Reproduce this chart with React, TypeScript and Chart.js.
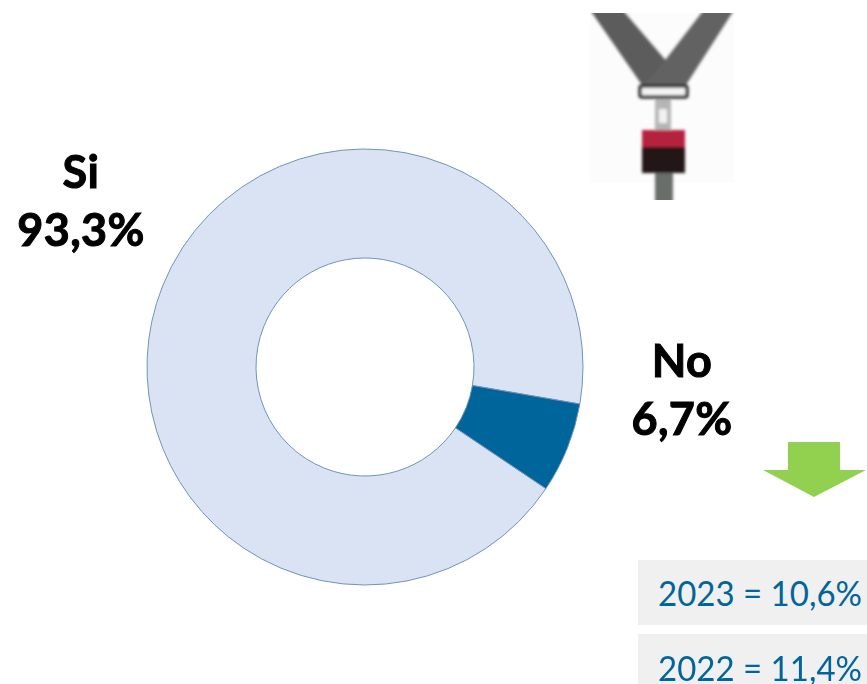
import React, { useEffect, useRef } from "react";
import { Chart, registerables } from "chart.js";

Chart.register(...registerables);

const categories = ["Si", "No"];
const shareValues = [93.3, 6.7];
const shareLabels = ["93,3%", "6,7%"];
const sliceColors = ["#dae3f3", "#00659a"];
const historyYears = ["2023", "2022"];
const historyValues = ["10,6%", "11,4%"];

const font = "Lato, 'Open Sans', sans-serif";

const abs = (left: number, top: number, width: number, height: number): React.CSSProperties => ({
  position: "absolute",
  left,
  top,
  width,
  height,
});

function Belt() {
  return (
    <svg style={{ ...abs(590, 13, 144, 187) }} viewBox="0 0 144 187">
      <defs>
        <filter id="b" x="-10%" y="-10%" width="120%" height="120%">
          <feGaussianBlur stdDeviation="1.4" />
        </filter>
        <clipPath id="c">
          <rect x="0" y="0" width="144" height="187" />
        </clipPath>
      </defs>
      <rect x="0" y="0" width="144" height="170" fill="#fcfcfc" />
      <g clipPath="url(#c)">
        <g filter="url(#b)">
          <polygon points="-2,-6 30,-6 78,50 96,72 52,72" fill="#5c5c5c" />
          <polygon points="116,-6 146,-6 96,72 54,72 76,46" fill="#626262" />
          <rect x="50" y="73" width="47" height="11" rx="2" fill="#f4f4f4" stroke="#333333" strokeWidth="3.5" />
          <rect x="65" y="86" width="16" height="32" fill="#b5b5b5" />
          <rect x="69" y="96" width="8" height="14" fill="#f2f2f2" />
          <rect x="52" y="117" width="43" height="20" fill="#b5203c" />
          <rect x="52" y="134" width="43" height="26" fill="#241417" />
          <rect x="65" y="160" width="18" height="30" fill="#6a6e6a" />
        </g>
      </g>
    </svg>
  );
}

export default function App() {
  const ref = useRef<HTMLCanvasElement | null>(null);

  useEffect(() => {
    if (!ref.current) return;
    const chart = new Chart(ref.current, {
      type: "doughnut",
      data: {
        labels: categories,
        datasets: [
          {
            data: shareValues,
            backgroundColor: sliceColors,
            borderColor: "#6f93bb",
            borderWidth: 1,
          },
        ],
      },
      options: {
        animation: false,
        responsive: false,
        rotation: 123.9,
        cutout: "50%",
        layout: { padding: { left: 146.5, right: 283.5, top: 148.5, bottom: 98.5 } },
        plugins: { legend: { display: false }, tooltip: { enabled: false } },
      },
    });
    return () => chart.destroy();
  }, []);

  const big: React.CSSProperties = {
    position: "absolute",
    fontFamily: font,
    fontWeight: 700,
    fontSize: 45,
    lineHeight: "58px",
    textAlign: "center",
    color: "#000",
    whiteSpace: "nowrap",
    WebkitTextStroke: "1px #000",
    letterSpacing: 0.4,
  };
  const row: React.CSSProperties = {
    fontFamily: font,
    fontSize: 33,
    color: "#00659a",
    background: "#f0f0f0",
    paddingLeft: 20,
    boxSizing: "border-box",
    whiteSpace: "nowrap",
    overflow: "hidden",
  };
  const tall: React.CSSProperties = { display: "inline-block", transform: "scaleY(1.08)" };

  return (
    <div style={{ position: "absolute", left: 0, top: 0, width: 867, height: 684, overflow: "hidden", background: "#fff" }}>
      <canvas ref={ref} width={867} height={684} style={{ position: "absolute", left: 0, top: 0, width: 867, height: 684 }} />
      <Belt />
      <div style={{ ...big, left: 0, top: 142, width: 162 }}>
        {categories[0]}
        <br />
        {shareLabels[0]}
      </div>
      <div style={{ ...big, left: 601, top: 331, width: 162 }}>
        {categories[1]}
        <br />
        {shareLabels[1]}
      </div>
      <svg style={{ ...abs(763, 442, 104, 56) }} viewBox="0 0 104 56">
        <polygon points="25,0 77,0 77,28 103,28 51,55 0,28 25,28" fill="#92d050" />
      </svg>
      <div style={{ ...abs(638, 560, 229, 65), ...row, lineHeight: "65px" }}>
        <span style={tall}>
          {historyYears[0]} = {historyValues[0]}
        </span>
      </div>
      <div style={{ ...abs(638, 634, 229, 50), ...row, lineHeight: "66px" }}>
        <span style={tall}>
          {historyYears[1]} = {historyValues[1]}
        </span>
      </div>
    </div>
  );
}
